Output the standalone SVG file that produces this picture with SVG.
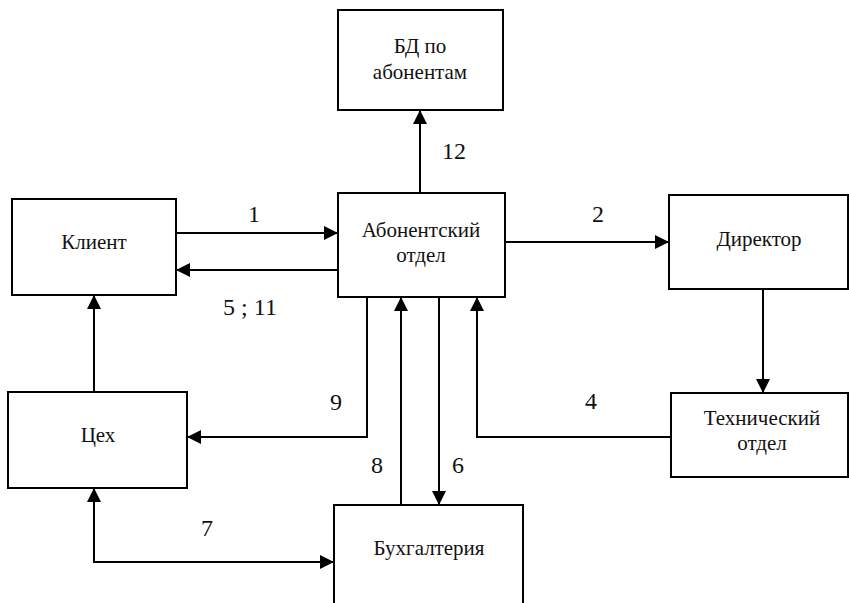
<svg xmlns="http://www.w3.org/2000/svg" width="849" height="603" viewBox="0 0 849 603">
  <style>
    .box { fill: #fff; stroke: #000; stroke-width: 2; }
    text { font-family: "Liberation Serif", "Times New Roman", "Noto Serif", "DejaVu Serif", Tinos, serif; fill: #111; text-anchor: middle; }
    .lbl { font-size: 21px; }
    .num { font-size: 24px; }
    .wire { fill: none; stroke: #000; stroke-width: 2; }
  </style>
  <defs>
    <marker id="head" markerUnits="userSpaceOnUse" markerWidth="15" markerHeight="14" refX="14" refY="7" orient="auto-start-reverse">
      <path d="M0,0 L14,7 L0,14 z" fill="#000"/>
    </marker>
  </defs>
  <rect width="849" height="603" fill="#fff"/>

  <g id="connectors">
    <path class="wire" d="M420,193 V110" marker-end="url(#head)"/>
    <path class="wire" d="M176,233 H338" marker-end="url(#head)"/>
    <path class="wire" d="M338,270 H176" marker-end="url(#head)"/>
    <path class="wire" d="M505,242 H669" marker-end="url(#head)"/>
    <path class="wire" d="M763,289 V393" marker-end="url(#head)"/>
    <path class="wire" d="M671,437 H477 V297" marker-end="url(#head)"/>
    <path class="wire" d="M367,297 V437 H187" marker-end="url(#head)"/>
    <path class="wire" d="M401,505 V297" marker-end="url(#head)"/>
    <path class="wire" d="M439,297 V505" marker-end="url(#head)"/>
    <path class="wire" d="M94,392 V295" marker-end="url(#head)"/>
    <path class="wire" d="M94,488 V562 H334" marker-start="url(#head)" marker-end="url(#head)"/>

    <text class="num" font-family="Liberation Serif, serif" x="454" y="159">12</text>
    <text class="num" font-family="Liberation Serif, serif" x="254" y="222">1</text>
    <text class="num" font-family="Liberation Serif, serif" x="250" y="315">5 ; 11</text>
    <text class="num" font-family="Liberation Serif, serif" x="598" y="222">2</text>
    <text class="num" font-family="Liberation Serif, serif" x="336" y="410">9</text>
    <text class="num" font-family="Liberation Serif, serif" x="591" y="409">4</text>
    <text class="num" font-family="Liberation Serif, serif" x="377" y="473">8</text>
    <text class="num" font-family="Liberation Serif, serif" x="458" y="473">6</text>
    <text class="num" font-family="Liberation Serif, serif" x="207" y="536">7</text>
  </g>

  <g id="db">
    <rect class="box" x="338" y="10" width="165" height="100"/>
    <text class="lbl" x="420" y="53">БД по</text>
    <text class="lbl" x="420" y="79">абонентам</text>
  </g>
  <g id="client">
    <rect class="box" x="12" y="199" width="164" height="96"/>
    <text class="lbl" x="94" y="249">Клиент</text>
  </g>
  <g id="subscriber-dept">
    <rect class="box" x="338" y="193" width="167" height="104"/>
    <text class="lbl" x="421" y="237">Абонентский</text>
    <text class="lbl" x="421" y="262">отдел</text>
  </g>
  <g id="director">
    <rect class="box" x="669" y="195" width="179" height="94"/>
    <text class="lbl" x="759" y="246">Директор</text>
  </g>
  <g id="tech-dept">
    <rect class="box" x="671" y="393" width="177" height="84"/>
    <text class="lbl" x="762" y="425">Технический</text>
    <text class="lbl" x="762" y="450">отдел</text>
  </g>
  <g id="workshop">
    <rect class="box" x="8" y="392" width="179" height="96"/>
    <text class="lbl" x="98" y="442">Цех</text>
  </g>
  <g id="accounting">
    <rect class="box" x="334" y="505" width="189" height="120"/>
    <text class="lbl" x="429" y="555">Бухгалтерия</text>
  </g>
</svg>
